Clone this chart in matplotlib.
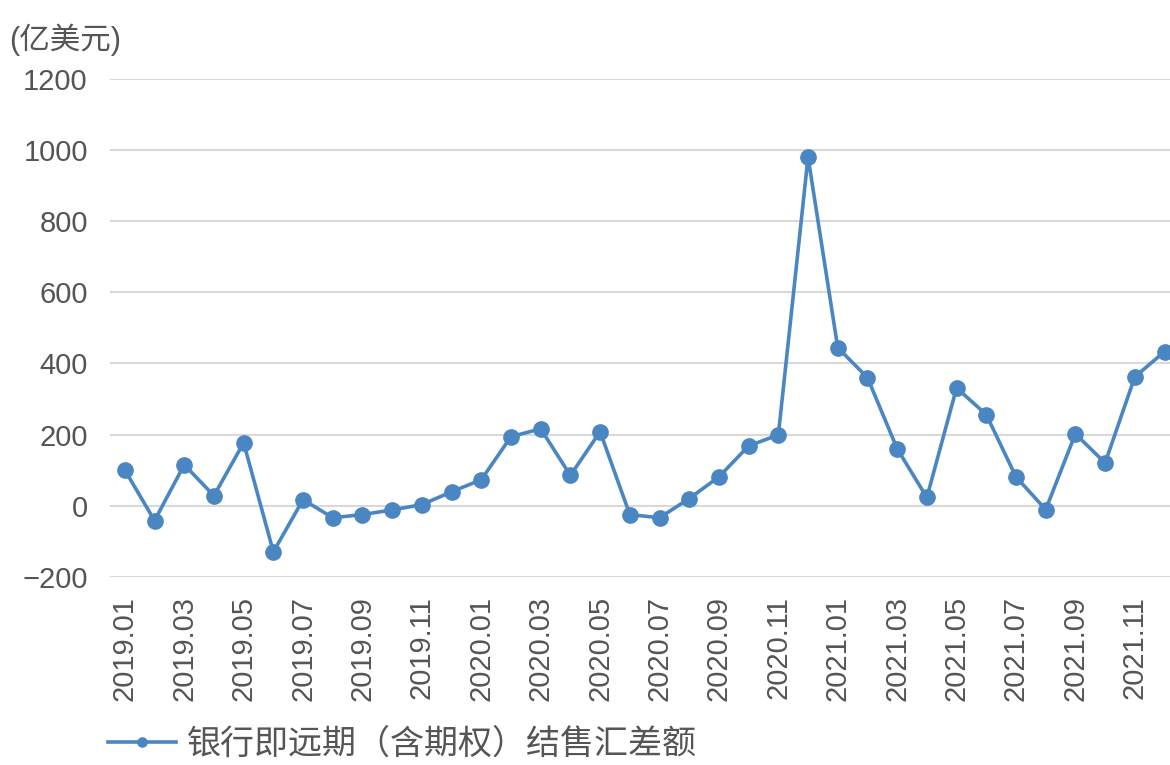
import matplotlib
matplotlib.use("Agg")
from matplotlib import pyplot as plt

plt.rcParams['font.family'] = ['Liberation Sans', 'Noto Sans CJK SC', 'DejaVu Sans']

months = [f"{y}.{m:02d}" for y in (2019, 2020, 2021) for m in range(1, 13)]
net_fx = [100, -42, 115, 28, 177, -130, 17, -34, -25, -12, 3, 39,
          73, 194, 216, 85, 208, -25, -34, 20, 81, 168, 199, 980,
          444, 360, 160, 23, 331, 256, 81, -11, 202, 120, 362, 433]
y_ticks = [-200, 0, 200, 400, 600, 800, 1000, 1200]
series_name = "银行即远期（含期权）结售汇差额"
unit_label = "(亿美元)"

line_color = "#4a86c2"
text_color = "#555555"

fig = plt.figure(figsize=(11.7, 7.65), dpi=100)
ax = fig.add_axes([0.094, 0.246, 0.914, 0.651])

x = list(range(len(months)))
ax.plot(x, net_fx, color=line_color, linewidth=2.6, marker='o',
        markersize=11, markerfacecolor=line_color, markeredgecolor=line_color,
        label=series_name, zorder=3)

ax.set_xlim(-0.5, len(months) - 0.5)
ax.set_ylim(-200, 1200)
ax.set_yticks(y_ticks)
ax.set_yticklabels([str(v) if v >= 0 else "\u2212" + str(-v) for v in y_ticks])
ax.set_xticks(x[::2])
ax.set_xticklabels(months[::2], rotation=90, va='top')

ax.grid(axis='y', color='#d9d9d9', linewidth=1.5, zorder=0)
for side in ax.spines.values():
    side.set_visible(False)
ax.tick_params(axis='both', length=0, labelsize=21, labelcolor=text_color)
ax.tick_params(axis='y', pad=16)
ax.tick_params(axis='x', pad=14)

fig.text(0.008, 1 - 40 / 765, unit_label, fontsize=22, color=text_color,
         va='center', ha='left')

fig.legend(loc='center left', bbox_to_anchor=(0.078, 1 - 745 / 765),
           frameon=False, fontsize=24.5, borderpad=0, handletextpad=0.3,
           handlelength=2.0, markerscale=0.6, labelcolor=text_color)

fig.savefig("out.png", dpi=100)
